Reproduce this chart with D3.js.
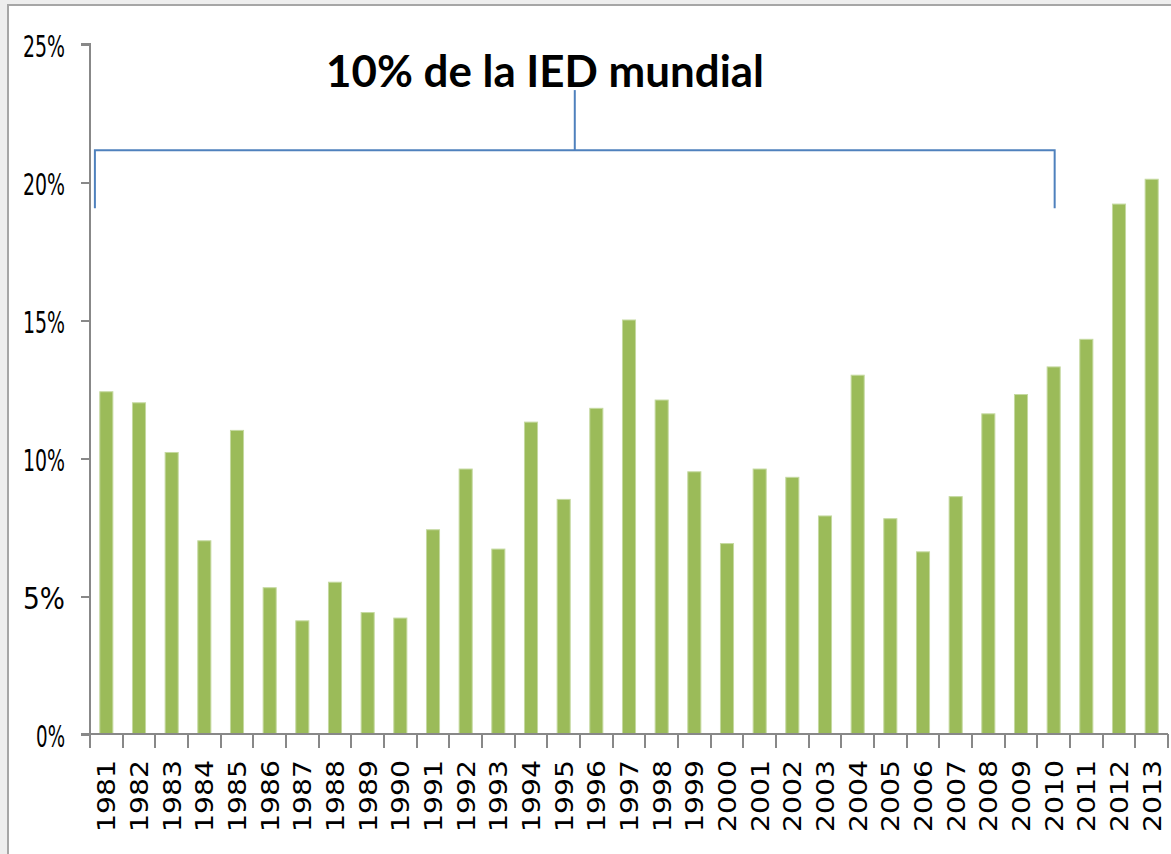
<!DOCTYPE html>
<html lang="es">
<head>
    <meta charset="utf-8">
    <title>10% de la IED mundial</title>
    <script src="https://cdn.jsdelivr.net/npm/d3@7"></script>
</head>
<style>
    body {
        margin: 0;
        background: #eeeeee;
        overflow: hidden;
    }

    svg {
        display: block;
    }

    .axis path,
    .axis line {
        stroke: #888888;
        stroke-width: 2px;
        shape-rendering: crispEdges;
    }

    .ylab {
        font-family: 'Liberation Sans Narrow', 'DejaVu Sans Condensed', sans-serif;
        font-size: 31px;
        fill: #000;
    }

    .xlab {
        font-family: 'DejaVu Sans', sans-serif;
        font-size: 25px;
        fill: #000;
    }

    .bar {
        fill: #9bbb59;
        stroke: #c5d9a0;
        stroke-width: 1px;
    }

    .bracket {
        fill: none;
        stroke: #4f81bd;
        stroke-width: 2px;
    }

    .title {
        font-family: Lato, 'Open Sans', sans-serif;
        font-weight: bold;
        font-size: 44px;
    }
</style>
<body>

<script type="text/javascript">

    var years = ['1981', '1982', '1983', '1984', '1985', '1986', '1987', '1988', '1989', '1990',
        '1991', '1992', '1993', '1994', '1995', '1996', '1997', '1998', '1999', '2000',
        '2001', '2002', '2003', '2004', '2005', '2006', '2007', '2008', '2009', '2010',
        '2011', '2012', '2013'];

    // share of world FDI, in percent
    var shares = [12.4, 12.0, 10.2, 7.0, 11.0, 5.3, 4.1, 5.5, 4.4, 4.2,
        7.4, 9.6, 6.7, 11.3, 8.5, 11.8, 15.0, 12.1, 9.5, 6.9,
        9.6, 9.3, 7.9, 13.0, 7.8, 6.6, 8.6, 11.6, 12.3, 13.3,
        14.3, 19.2, 20.1];

    var yTicks = [0, 0.05, 0.10, 0.15, 0.20, 0.25];

    var titleText = '10% de la IED mundial';
    var bracketFrom = '1981';
    var bracketTo = '2010';

    var W = 1171, H = 854;
    var plotLeft = 90, plotRight = 1168, plotTop = 44, plotBottom = 734;

    var svg = d3.select('body').append('svg')
        .attr('width', W)
        .attr('height', H);

    // white panel with grey frame
    svg.append('rect')
        .attr('x', 8)
        .attr('y', 5)
        .attr('width', W + 20)
        .attr('height', H + 20)
        .attr('fill', '#ffffff')
        .attr('stroke', '#a6a6a6')
        .attr('stroke-width', 2);

    var x = d3.scaleBand()
        .domain(years)
        .range([plotLeft, plotRight])
        .paddingInner(0.6)
        .paddingOuter(0.3);

    var y = d3.scaleLinear()
        .domain([0, 0.25])
        .range([plotBottom, plotTop]);

    var step = x.step();

    // bars
    svg.selectAll('.bar')
        .data(years)
        .enter()
        .append('rect')
        .attr('class', 'bar')
        .attr('x', function (d) { return x(d); })
        .attr('width', x.bandwidth())
        .attr('y', function (d, i) { return y(shares[i] / 100); })
        .attr('height', function (d, i) { return plotBottom - y(shares[i] / 100); });

    // y axis
    var yAxis = svg.append('g')
        .attr('class', 'axis')
        .attr('transform', 'translate(' + plotLeft + ',0)')
        .call(d3.axisLeft(y).tickValues(yTicks).tickSize(9).tickFormat(d3.format('.0%')));
    yAxis.select('.domain').attr('d', 'M-9,' + plotTop + 'H0V' + plotBottom);
    yAxis.selectAll('text')
        .attr('class', 'ylab')
        .attr('x', -25)
        .attr('dy', '0.4em')
        .attr('textLength', function (d) { return d === 0 ? 29 : 42; })
        .attr('lengthAdjust', 'spacingAndGlyphs');

    // x axis: ticks sit between categories
    var xAxis = svg.append('g')
        .attr('class', 'axis')
        .attr('transform', 'translate(0,' + plotBottom + ')');
    xAxis.append('path')
        .attr('d', 'M' + (plotLeft - 9) + ',0H' + plotRight);
    var bounds = d3.range(years.length + 1).map(function (i) { return plotLeft + i * step; });
    xAxis.selectAll('.tick')
        .data(bounds)
        .enter()
        .append('line')
        .attr('x1', function (d) { return d; })
        .attr('x2', function (d) { return d; })
        .attr('y1', 0)
        .attr('y2', 14);
    xAxis.selectAll('.xlab')
        .data(years)
        .enter()
        .append('text')
        .attr('class', 'xlab')
        .attr('text-anchor', 'end')
        .attr('transform', function (d) {
            return 'translate(' + (x(d) + x.bandwidth() / 2) + ',26) rotate(-90)';
        })
        .attr('dy', '0.36em')
        .attr('textLength', 72)
        .attr('lengthAdjust', 'spacingAndGlyphs')
        .text(function (d) { return d; });

    // bracket over 1981-2010
    var bx0 = x(bracketFrom) - 0.15 * step;
    var bx1 = x(bracketTo) + x.bandwidth() / 2 + 1;
    var byTop = y(0.2115), byEnd = y(0.1905);
    var bmid = (bx0 + bx1) / 2;
    svg.append('path')
        .attr('class', 'bracket')
        .attr('d', 'M' + bx0 + ',' + byEnd + 'V' + byTop + 'H' + bx1 + 'V' + byEnd);
    svg.append('path')
        .attr('class', 'bracket')
        .attr('d', 'M' + bmid + ',' + byTop + 'V' + y(0.2333));

    svg.append('text')
        .attr('class', 'title')
        .attr('x', 545)
        .attr('y', 87)
        .attr('text-anchor', 'middle')
        .attr('textLength', 438)
        .attr('lengthAdjust', 'spacingAndGlyphs')
        .text(titleText);

</script>
</body>
</html>
